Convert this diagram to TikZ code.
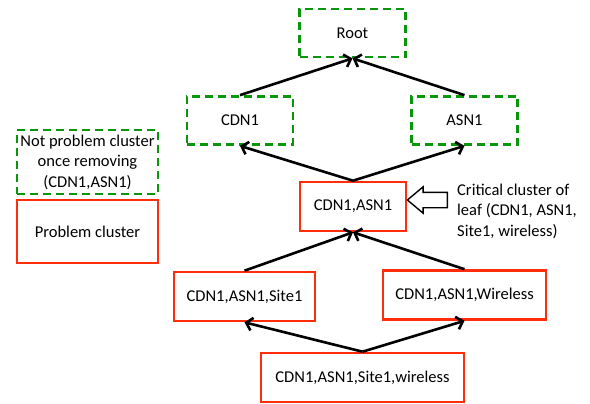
\documentclass[tikz,border=0pt]{standalone}
\usepackage{fontspec}
\setmainfont{Carlito}
\usetikzlibrary{arrows.meta,shapes.arrows}
\definecolor{probred}{RGB}{255,45,10}
\definecolor{okgreen}{RGB}{10,150,10}

\begin{document}
\begin{tikzpicture}[x=1pt, y=-1pt,
    >={Straight Barb[length=6pt,width=13pt]},
    every node/.style={font=\fontsize{16.5}{20.5}\selectfont},
    okaynode/.style={draw=okgreen, line width=2.7pt, dashed,
                     dash pattern=on 8pt off 5pt,
                     minimum width=106pt, minimum height=48pt, inner sep=1pt},
    probnode/.style={draw=probred, line width=2.6pt,
                     minimum height=49pt, inner sep=1pt},
    linkarrow/.style={->, black, line width=2.6pt}
]
\useasboundingbox (0,0) rectangle (590,404);

\node[okaynode] (Root) at (352.5, 33)  {Root};
\node[okaynode] (CDN) at (240,   120.5) {CDN1};
\node[okaynode] (ASN) at (464.5, 120.5) {ASN1};
\node[probnode, minimum width=106pt] (CA)   at (353,   206.5) {CDN1,ASN1};
\node[probnode, minimum width=141pt] (CAS)  at (244.5, 296.5) {CDN1,ASN1,Site1};
\node[probnode, minimum width=163pt] (CAW)  at (464.5, 295)   {CDN1,ASN1,Wireless};
\node[probnode, minimum width=203pt] (Leaf) at (362.5, 377.5) {CDN1,ASN1,Site1,wireless};

% legend
\node[okaynode, minimum width=141pt, minimum height=64pt, align=center]
  (keyok) at (87.5, 162) {Not problem cluster\\once removing\\(CDN1,ASN1)};
\node[probnode, minimum width=141pt, minimum height=63pt]
  (keyprob) at (87.5, 231.5) {Problem cluster};

\draw[linkarrow] (CDN.north) -- (Root.south);
\draw[linkarrow] (ASN.north) -- (Root.south);
\draw[linkarrow] (CA.north) -- (CDN.south);
\draw[linkarrow] (CA.north) -- (ASN.south);
\draw[linkarrow] (CAS.north) -- (CA.south);
\draw[linkarrow] (CAW.north) -- (CA.south);
\draw[linkarrow] (Leaf.north) -- (CAS.south);
\draw[linkarrow] (Leaf.north) -- (CAW.south);

% pointer to the critical cluster
\node[single arrow, draw=black, line width=1.4pt, shape border rotate=180,
      minimum height=40pt, minimum width=25pt, inner sep=7pt,
      single arrow head extend=5.5pt, single arrow tip angle=80]
  (pointer) at (432, 200) {};
\node[anchor=west, align=left, inner sep=0pt] (crit) at (457, 211)
  {Critical cluster of\\leaf (CDN1, ASN1,\\Site1, wireless)};

\end{tikzpicture}
\end{document}
